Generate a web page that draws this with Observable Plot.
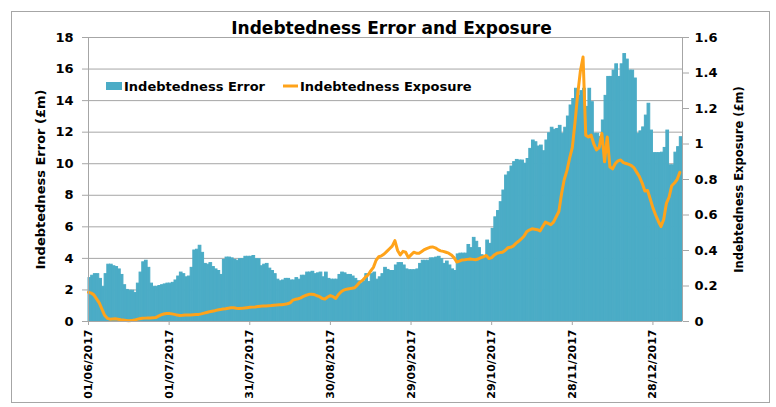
<!DOCTYPE html>
<html><head><meta charset="utf-8">
<script src="https://cdn.jsdelivr.net/npm/d3@7"></script>
<script src="https://cdn.jsdelivr.net/npm/@observablehq/plot@0.6"></script>
<style>
body{margin:0;background:#fff}
#chart svg{font-family:"DejaVu Sans",Verdana,sans-serif;font-weight:bold}
</style>
</head><body><div id="chart"></div>
<script>
const titleText = "Indebtedness Error and Exposure";
const seriesNames = ["Indebtedness Error", "Indebtedness Exposure"];
const leftAxisTitle = "Indebtedness Error (£m)";
const rightAxisTitle = "Indebtedness Exposure (£m)";
const startDate = "2017-06-01";
const endDate = "2018-01-08";
const xTickDates = ["2017-06-01","2017-07-01","2017-07-31","2017-08-30","2017-09-29","2017-10-29","2017-11-28","2017-12-28"];
const leftTicks = [0,2,4,6,8,10,12,14,16,18];
const rightTicks = [0,0.2,0.4,0.6,0.8,1,1.2,1.4,1.6];

// daily Indebtedness Error (£m), from 01/06/2017
const errorValues = [
2.75,2.9,3.0,3.0,2.7,2.2,3.0,3.6,3.6,3.5,3.45,3.3,2.95,2.3,2.0,1.95,1.95,1.8,2.4,3.1,3.75,3.85,3.4,2.4,2.2,2.2,
2.25,2.3,2.35,2.4,2.4,2.45,2.6,2.85,3.1,3.0,2.8,2.85,3.4,4.5,4.55,4.8,4.35,3.65,3.6,3.7,3.45,3.3,3.2,2.95,
3.9,4.05,4.05,4.0,3.9,3.85,3.95,3.95,4.1,4.1,4.1,4.15,3.95,3.95,3.5,3.6,3.65,3.35,3.2,3.0,2.65,2.55,2.6,2.7,
2.7,2.6,2.6,2.75,2.65,2.9,2.9,3.1,3.1,3.15,3.0,3.05,3.1,2.8,3.1,2.7,2.65,2.65,2.65,2.95,3.1,3.05,2.95,2.95,
2.85,2.7,2.55,2.4,2.5,3.0,2.5,3.0,3.1,2.65,2.8,3.0,3.4,
3.27,3.2,3.2,3.55,3.7,3.7,3.55,3.3,3.25,3.25,3.25,3.3,3.65,3.85,3.85,3.85,4.0,4.0,4.05,4.1,3.95,3.65,3.8,
3.55,3.3,3.2,4.25,4.3,4.3,4.3,4.85,4.65,5.3,5.05,4.65,4.2,4.1,
5.13,4.92,5.87,6.6,7.0,7.56,8.3,9.25,9.46,9.82,10.1,10.24,10.2,10.2,10.0,10.3,10.94,11.47,11.36,11.09,11.15,
10.79,11.47,11.93,12.28,12.15,12.2,12.4,11.9,12.28,12.99,13.69,14.1,14.75,14.3,14.6,
14.75,13.6,14.75,13.9,11.9,11.9,11.7,12.74,14.3,15.5,15.5,15.9,16.3,15.5,16.3,16.95,16.6,15.9,15.9,15.4,
11.9,12.05,12.3,13.05,13.8,12.1,10.67,10.67,10.67,10.7,11.0,12.1,9.9,9.9,10.7,11.05,11.68
];

// daily Indebtedness Exposure (£m), from 01/06/2017
const exposureValues = [
0.165,0.16,0.15,0.128,0.105,0.07,0.035,0.018,0.013,0.014,0.015,0.013,0.01,0.008,0.006,0.004,0.005,0.008,
0.012,0.016,0.018,0.019,0.02,0.02,0.021,0.022,0.03,0.037,0.042,0.045,0.045,0.043,0.04,0.036,0.034,0.035,0.037,
0.036,0.037,0.038,0.039,0.04,0.043,0.047,0.051,0.055,0.058,0.061,0.065,0.067,0.07,0.072,0.075,0.077,0.078,
0.075,0.073,0.074,0.076,0.078,0.08,0.081,0.082,0.084,0.086,0.088,0.088,0.089,0.09,0.092,0.093,0.094,0.095,0.097,
0.1,0.105,0.12,0.125,0.128,0.133,0.142,0.148,0.153,0.154,0.152,0.145,0.14,0.13,0.127,0.138,0.146,0.14,0.13,
0.152,0.168,0.177,0.182,0.185,0.187,0.19,0.205,0.222,0.233,0.25,0.262,0.285,0.305,0.345,0.365,0.37,0.38,
0.395,0.41,0.425,0.456,0.4,0.375,0.395,0.39,0.36,0.375,0.39,0.385,0.385,0.395,0.405,0.412,0.418,0.42,0.415,
0.405,0.398,0.395,0.39,0.385,0.375,0.36,0.335,0.34,0.347,0.348,0.35,0.352,0.35,0.348,0.352,0.36,0.365,0.372,
0.355,0.36,0.375,0.385,0.388,0.39,0.4,0.415,0.418,0.425,0.44,0.452,0.465,0.48,0.505,0.515,0.522,0.52,0.517,
0.51,0.535,0.56,0.553,0.545,0.56,0.59,0.62,0.72,0.8,0.85,0.92,0.98,1.12,1.28,1.41,1.49,
1.05,1.04,1.05,1.0,0.967,0.98,1.06,0.9,1.04,0.87,0.86,0.89,0.905,0.91,0.895,0.89,0.885,0.878,0.865,0.84,
0.815,0.78,0.735,0.738,0.69,0.64,0.6,0.565,0.535,0.575,0.665,0.7,0.765,0.78,0.8,0.84
];

const barColor = "#4bacc6";
const lineColor = "#ffa31a";
const gridColor = "#a6a6a6";
const ratio = leftTicks[leftTicks.length-1] / rightTicks[rightTicks.length-1];

const start = new Date(startDate);
const data = errorValues.map((v, i) => ({
  date: d3.utcDay.offset(start, i),
  next: d3.utcDay.offset(start, i + 1),
  error: v,
  exposure: exposureValues[i]
}));
const fmtRight = d => d3.format("~g")(+(d / ratio).toFixed(2));

const plot = Plot.plot({
  width: 776, height: 407,
  marginLeft: 88, marginRight: 94, marginTop: 37, marginBottom: 86,
  style: {background: "#fff", color: "#000", overflow: "visible"},
  x: {type: "utc", domain: [start, new Date(endDate)], label: null},
  y: {domain: [0, 18], label: null},
  marks: [
    Plot.gridY(leftTicks.slice(1), {stroke: gridColor, strokeOpacity: 1}),
    Plot.rectY(data, {x1: "date", x2: "next", y: "error", fill: barColor, stroke: barColor, strokeWidth: 1}),
    Plot.lineY(data, {x: "date", y: d => d.exposure * ratio, stroke: lineColor, strokeWidth: 3, strokeLinejoin: "round"}),
    Plot.ruleX([start], {stroke: gridColor}),
    Plot.ruleX([new Date(endDate)], {stroke: gridColor}),
    Plot.ruleY([0], {stroke: gridColor}),
    Plot.axisY(leftTicks, {anchor: "left", tickSize: 6, tickPadding: 9, stroke: gridColor, fontSize: 13, fontWeight: "bold", label: null}),
    Plot.axisY(rightTicks.map(v => v * ratio), {anchor: "right", tickSize: 6, tickPadding: 6, stroke: gridColor, fontSize: 13, fontWeight: "bold", tickFormat: fmtRight, label: null}),
    Plot.axisX(xTickDates.map(d => new Date(d)), {anchor: "bottom", tickSize: 4, tickPadding: 4, tickRotate: -90, stroke: gridColor, fontSize: 11, fontWeight: "bold", tickFormat: d3.utcFormat("%d/%m/%Y"), label: null}),
    Plot.text([leftAxisTitle], {frameAnchor: "left", dx: -48, rotate: -90, textAnchor: "middle", fontSize: 13, fontWeight: "bold"}),
    Plot.text([rightAxisTitle], {frameAnchor: "right", dx: 57, rotate: -90, textAnchor: "middle", fontSize: 11.5, fontWeight: "bold"}),
    Plot.text([titleText], {frameAnchor: "top", dx: 6, dy: -4, lineAnchor: "bottom", fontSize: 17, fontWeight: "bold"})
  ]
});

document.getElementById("chart").appendChild(plot);

const svg = d3.select(plot);
// outer chart border
svg.append("rect").attr("x", 11.5).attr("y", 11.5).attr("width", 758).attr("height", 391)
  .attr("fill", "none").attr("stroke", gridColor);
// legend
const lg = svg.append("g").attr("font-size", 13).attr("font-weight", "bold").attr("fill", "#000").attr("text-anchor", "start");
lg.append("rect").attr("x", 106).attr("y", 82).attr("width", 16).attr("height", 8).attr("fill", barColor);
lg.append("text").attr("x", 124).attr("y", 91).text(seriesNames[0]);
lg.append("line").attr("x1", 283).attr("x2", 298).attr("y1", 86).attr("y2", 86)
  .attr("stroke", lineColor).attr("stroke-width", 3);
lg.append("text").attr("x", 300).attr("y", 91).text(seriesNames[1]);
</script>
</body></html>
